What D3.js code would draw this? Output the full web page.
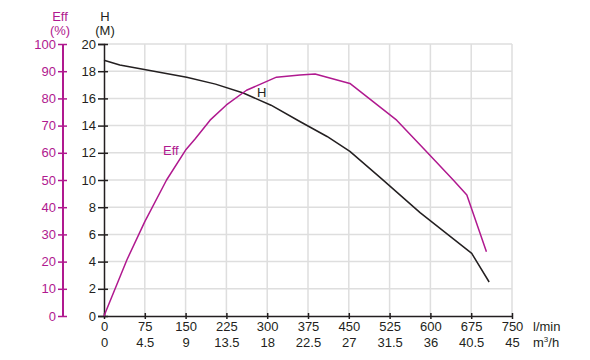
<!DOCTYPE html>
<html>
<head>
<meta charset="utf-8">
<script src="https://cdn.jsdelivr.net/npm/d3@7"></script>
<style>
  body { margin: 0; background: #fff; }
  text { font-family: "Liberation Sans", Arial, sans-serif; }
</style>
</head>
<body>
<div id="chart"></div>
<script>
// flow ticks (l/min) and matching m3/h labels
const flowTicks = [0, 75, 150, 225, 300, 375, 450, 525, 600, 675, 750];
const m3hLabels = ["0", "4.5", "9", "13.5", "18", "22.5", "27", "31.5", "36", "40.5", "45"];
const headTicks = [0, 2, 4, 6, 8, 10, 12, 14, 16, 18, 20];
const effTicks = [0, 10, 20, 30, 40, 50, 60, 70, 80, 90, 100];

// head curve (l/min, m)
const headFlow = [0, 29, 152, 205, 256, 307, 360, 410, 452, 510, 581, 676, 708];
const headVal = [18.8, 18.45, 17.55, 17.05, 16.4, 15.5, 14.3, 13.2, 12.1, 10.1, 7.6, 4.6, 2.5];

// efficiency curve (l/min, %)
const effFlow = [0, 42, 75, 115, 150, 167, 195, 225, 262, 317, 360, 388, 452, 538, 590, 642, 667, 703];
const effVal = [0, 20.6, 34.7, 50, 61, 65, 72, 77.6, 83, 87.8, 88.6, 89, 85.5, 72, 61, 50, 44.5, 23.6];

const width = 590, height = 360;
const magenta = "#b0198f";
const dark = "#231f20";

const svg = d3.select("#chart").append("svg")
  .attr("width", width).attr("height", height);

const x = d3.scaleLinear().domain([0, 750]).range([104, 512]);
const y = d3.scaleLinear().domain([0, 20]).range([316, 44]);
const yEff = d3.scaleLinear().domain([0, 100]).range([316, 44]);

// grid
const grid = svg.append("g").attr("stroke", "#dedede").attr("stroke-width", 1.5);
grid.selectAll(".v").data(flowTicks.slice(1)).join("line")
  .attr("x1", d => x(d)).attr("x2", d => x(d))
  .attr("y1", y(20)).attr("y2", y(0));
grid.selectAll(".h").data(headTicks.slice(1)).join("line")
  .attr("x1", x(0)).attr("x2", x(750))
  .attr("y1", d => y(d)).attr("y2", d => y(d));

// x axis
const xAxis = svg.append("g").attr("transform", `translate(0,${y(0)})`)
  .call(d3.axisBottom(x).tickValues(flowTicks).tickSize(0).tickFormat(""));
xAxis.select(".domain").attr("stroke", dark).attr("stroke-width", 1.5);
xAxis.selectAll(".tick line").remove();
xAxis.selectAll(".tick").append("line")
  .attr("y1", -3).attr("y2", 3).attr("stroke", dark).attr("stroke-width", 1.5);
xAxis.selectAll(".tick").append("text")
  .attr("y", 15).attr("fill", dark).attr("font-size", 13)
  .attr("text-anchor", "middle").text(d => d);
xAxis.selectAll(".tick").append("text")
  .attr("y", 31).attr("fill", dark).attr("font-size", 13)
  .attr("text-anchor", "middle").text((d, i) => m3hLabels[i]);
svg.append("text").attr("x", 533).attr("y", y(0) + 15).attr("font-size", 13)
  .attr("fill", dark).text("l/min");
svg.append("text").attr("x", 533).attr("y", y(0) + 31).attr("font-size", 13)
  .attr("fill", dark).html("m<tspan font-size='8' dy='-5'>3</tspan><tspan dy='5'>/h</tspan>");

// H axis
const hAxis = svg.append("g").attr("transform", `translate(${x(0)},0)`)
  .call(d3.axisLeft(y).tickValues(headTicks).tickSize(6).tickPadding(2));
hAxis.select(".domain").attr("stroke", dark).attr("stroke-width", 1.5);
hAxis.selectAll(".tick line").attr("stroke", dark).attr("stroke-width", 1.5).attr("x2", -6).attr("x1", 4);
hAxis.selectAll(".tick text").attr("fill", dark).attr("font-size", 13)
  .attr("font-family", "Liberation Sans, Arial, sans-serif");
svg.append("text").attr("x", x(0) + 1).attr("y", 21).attr("text-anchor", "middle")
  .attr("font-size", 13).attr("fill", dark).text("H");
svg.append("text").attr("x", x(0) + 1).attr("y", 35).attr("text-anchor", "middle")
  .attr("font-size", 13).attr("fill", dark).text("(M)");

// Eff axis
const eAxis = svg.append("g").attr("transform", "translate(63,0)")
  .call(d3.axisLeft(yEff).tickValues(effTicks).tickSize(5).tickPadding(2));
eAxis.select(".domain").attr("stroke", magenta).attr("stroke-width", 2).attr("d", `M0,${yEff(100)}V${yEff(0)}`);
eAxis.selectAll(".tick line").attr("stroke", magenta).attr("stroke-width", 1.5).attr("x2", -5).attr("x1", 4);
eAxis.selectAll(".tick text").attr("fill", magenta).attr("font-size", 13)
  .attr("font-family", "Liberation Sans, Arial, sans-serif");
svg.append("text").attr("x", 60).attr("y", 21).attr("text-anchor", "middle")
  .attr("font-size", 13).attr("fill", magenta).text("Eff");
svg.append("text").attr("x", 60).attr("y", 35).attr("text-anchor", "middle")
  .attr("font-size", 13).attr("fill", magenta).text("(%)");

// curves
const headLine = d3.line().x(d => x(d[0])).y(d => y(d[1]));
svg.append("path").datum(d3.zip(headFlow, headVal))
  .attr("fill", "none").attr("stroke", dark).attr("stroke-width", 1.5)
  .attr("stroke-linejoin", "round")
  .attr("d", headLine);

const effLine = d3.line().x(d => x(d[0])).y(d => yEff(d[1]));
svg.append("path").datum(d3.zip(effFlow, effVal))
  .attr("fill", "none").attr("stroke", magenta).attr("stroke-width", 1.5)
  .attr("stroke-linejoin", "round")
  .attr("d", effLine);

// curve labels
svg.append("text").attr("x", 257).attr("y", 97).attr("font-size", 13)
  .attr("fill", dark).text("H");
svg.append("text").attr("x", 163).attr("y", 155).attr("font-size", 13)
  .attr("fill", magenta).text("Eff");
</script>
</body>
</html>
